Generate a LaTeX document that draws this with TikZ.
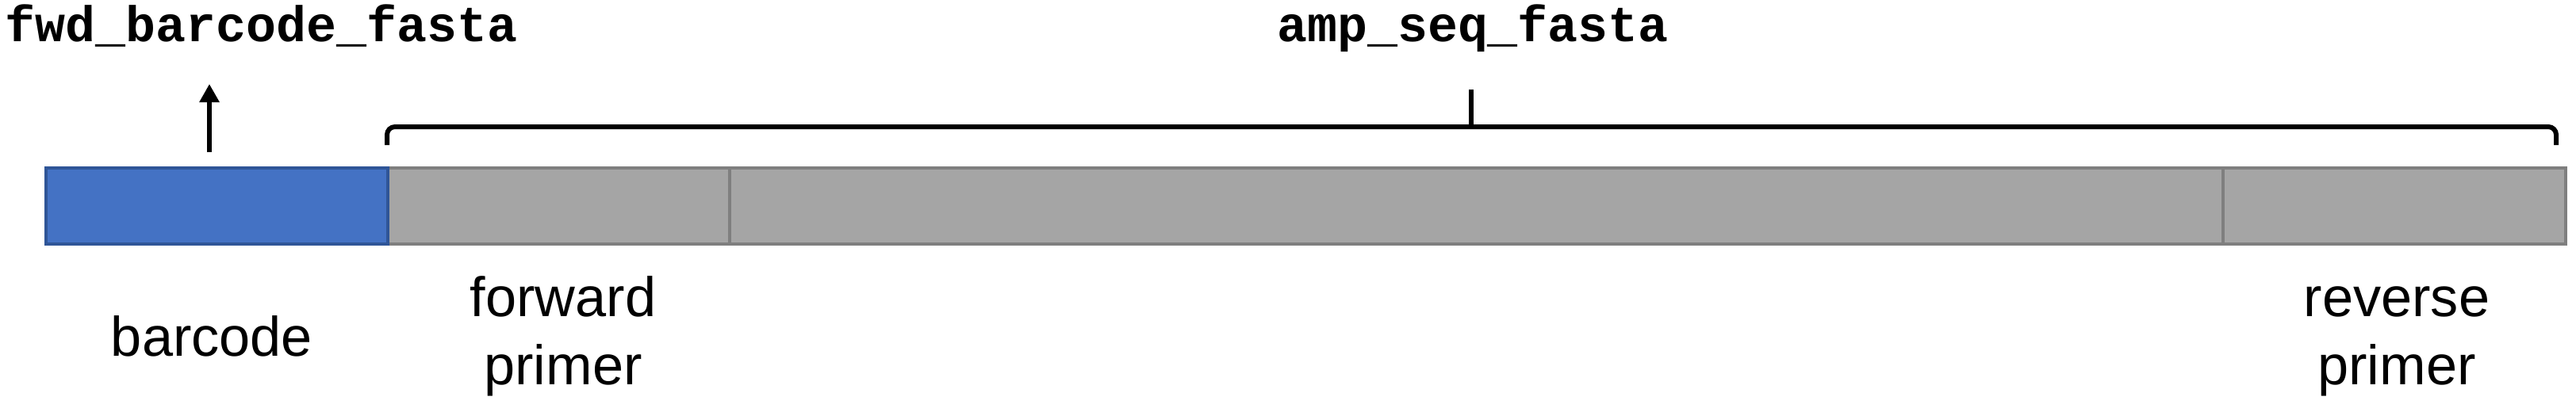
\documentclass[tikz,border=0pt]{standalone}
\usepackage{fontspec}
\setmainfont{Liberation Sans}
\newfontfamily\codefont{Liberation Mono}
\usetikzlibrary{positioning,arrows.meta,calc}
\definecolor{bcblue}{HTML}{4472C4}
\definecolor{bcblueedge}{HTML}{2F5597}
\definecolor{segfill}{HTML}{A5A5A5}
\definecolor{segedge}{HTML}{7F7F7F}

\begin{document}
\begin{tikzpicture}[
        every node/.style={inner sep=0pt, outer sep=0pt},
        segbox/.style={draw=segedge, fill=segfill, line width=0.04cm, minimum height=0.96cm},
        barcodebox/.style={draw=bcblueedge, fill=bcblue, line width=0.04cm, minimum height=0.96cm},
        seqlabel/.style={font=\fontsize{20}{24.2}\selectfont, align=center, anchor=base},
        filelabel/.style={font=\codefont\bfseries\fontsize{18}{20}\selectfont, anchor=base},
        bracket/.style={line width=0.06cm, rounded corners=0.1cm},
        uparrow/.style={-{Triangle[width=0.24cm, length=0.23cm]}, line width=0.065cm}
    ]
        \useasboundingbox (0,0) rectangle (32.48,-5.19);

        % Amplicon segments (grey)
        \node[segbox, minimum width=4.31cm] (fwd) at (7.045,-2.60) {};
        \node[segbox, minimum width=18.83cm, right=0pt of fwd] (amp) {};
        \node[segbox, minimum width=4.32cm, right=0pt of amp] (rev) {};

        % Barcode segment
        \node[barcodebox, minimum width=4.31cm, left=0pt of fwd] (bc) {};

        % Segment labels (base = last line)
        \node[seqlabel] (bclabel) at (2.67,-4.49) {barcode};
        \node[seqlabel] (fwdlabel) at (7.10,-4.85) {forward\\ primer};
        \node[seqlabel] (revlabel) at (30.22,-4.85) {reverse\\ primer};

        % Output files
        \node[filelabel, anchor=base west] (bcfile) at (0.07,-0.52) {fwd\_barcode\_fasta};
        \node[filelabel] (ampfile) at (18.57,-0.52) {amp\_seq\_fasta};

        % Bracket over amplicon
        \coordinate (brl) at (4.88,-1.83);
        \coordinate (brr) at (32.23,-1.83);
        \coordinate (brmid) at (18.55,-1.60);
        \coordinate (brtip) at (18.55,-1.13);
        \draw[bracket] (brl) |- (brmid) -| (brr);
        \draw[line width=0.06cm] (brmid) -- (brtip);

        % Arrow from barcode
        \coordinate (bcout) at (2.64,-1.92);
        \coordinate (bcin) at (2.64,-1.06);
        \draw[uparrow] (bcout) -- (bcin);

\end{tikzpicture}
\end{document}
